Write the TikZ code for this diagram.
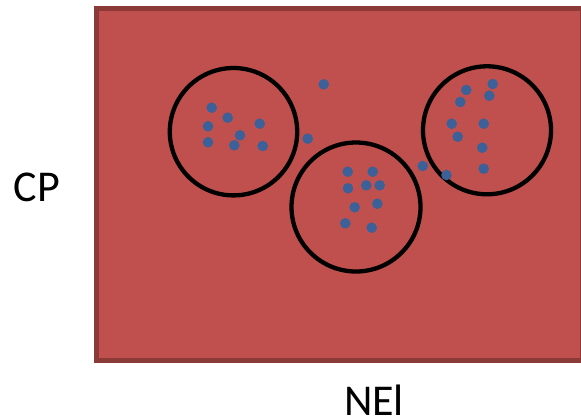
\documentclass[tikz,border=0pt]{standalone}
\usepackage{fontspec}
\setmainfont{Carlito}
\definecolor{boxred}{HTML}{C0504D}
\definecolor{boxedge}{HTML}{8C3A38}
\definecolor{dotblue}{HTML}{3C6098}
\begin{document}
\begin{tikzpicture}[x=1pt,y=-1pt,
  dot/.style={circle,fill=dotblue,inner sep=0pt,minimum size=10.6pt},
  ring/.style={circle,draw=black,line width=4.3pt,inner sep=0pt},
  lbl/.style={font=\fontsize{44}{52}\selectfont,inner sep=0pt,anchor=base}]
\useasboundingbox (0,0) rectangle (581,418);
\begin{scope}
\clip (0,0) rectangle (581,418);
\draw[fill=boxred,draw=boxedge,line width=5pt] (96.7,8.7) rectangle (582,360.5);
\end{scope}
\node[ring,minimum size=127.4pt] (c1) at (233.5,131.7) {};
\node[ring,minimum size=129pt] (c2) at (356,207) {};
\node[ring,minimum size=128pt] (c3) at (487,130.3) {};
\foreach \x/\y [count=\i] in {211.7/107.7,227.7/117.7,208/126.3,259.7/123.7,240/135.3,208/142.3,234.3/145.3,262.7/146,
  323.7/84.3,307.7/138.7,
  347.7/171.7,372.7/171.7,348/188.3,366.3/185.3,379.7/185.3,354.7/207.3,377.3/203.7,345.3/223.3,371.7/227.7,
  422.7/166,446.5/175,
  492.7/84,466.3/90,489.3/95.7,460.3/102,451.7/123.7,483.7/123.7,457.7/136.7,482.3/147.7,483.7/168.7}
  \node[dot] (d\i) at (\x,\y) {};
\node[lbl] (cp) at (37,201) {CP};
\node[lbl] (nel) at (374,415) {NEl};
\end{tikzpicture}
\end{document}
